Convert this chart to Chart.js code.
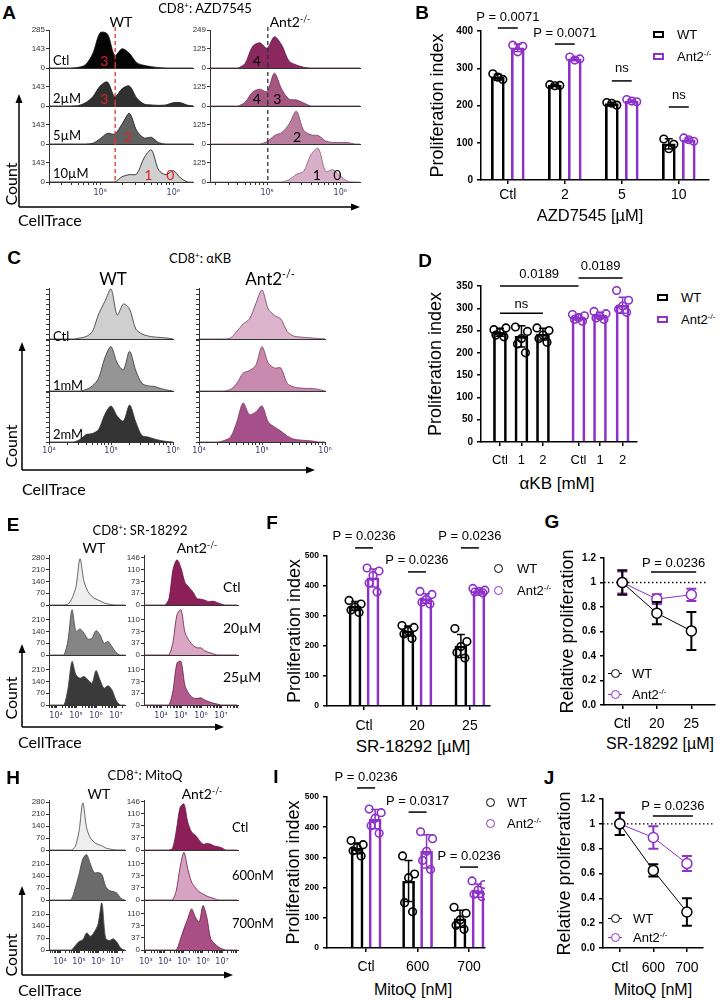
<!DOCTYPE html>
<html>
<head>
<meta charset="utf-8">
<title>CD8 proliferation</title>
<script src="https://cdn.jsdelivr.net/npm/chart.js@4.4.1/dist/chart.umd.min.js"></script>
<style>
  body { margin: 0; background: #fff; }
  #fig { position: relative; width: 721px; height: 1000px; overflow: hidden; font-family: "Liberation Sans", Arial, sans-serif; color: #000; }
  .box { position: absolute; }
  .t { position: absolute; white-space: nowrap; line-height: 1; }
  .sp { font-size: 62%; vertical-align: 0.6em; }
  .lab { font-weight: bold; font-size: 19px; }
  svg { position: absolute; left: 0; top: 0; }
</style>
</head>
<body>
<div id="fig"></div>
<script>
// ---------- A: AZD7545 histograms (x = log10 CellTrace, y = count) ----------
const aX = [4.2, 4.3, 4.4, 4.5, 4.6, 4.7, 4.8, 4.9, 5.0, 5.1, 5.2, 5.3, 5.4, 5.5, 5.6, 5.7, 5.8, 5.9, 6.0, 6.1, 6.2, 6.3];
const aWtCtl = [0, 0, 0, 0, 0, 5, 25, 110, 265, 255, 95, 145, 110, 40, 20, 10, 3, 0, 0, 0, 0, 0];
const aWt2   = [0, 0, 0, 0, 0, 3, 25, 70, 150, 180, 70, 130, 150, 60, 15, 8, 5, 8, 25, 25, 5, 0];
const aWt5   = [0, 0, 0, 0, 0, 0, 0, 5, 40, 80, 75, 150, 230, 100, 45, 50, 10, 0, 0, 0, 0, 0];
const aWt10  = [0, 0, 0, 0, 0, 0, 0, 0, 0, 0, 0, 40, 55, 60, 180, 240, 90, 55, 85, 30, 0, 0];
const aKoCtl = [0, 0, 0, 0, 0, 30, 140, 165, 130, 205, 150, 45, 20, 5, 0, 0, 0, 0, 0, 0, 0, 0];
const aKo2   = [0, 0, 0, 0, 0, 25, 90, 110, 95, 215, 110, 45, 40, 20, 0, 0, 0, 0, 0, 0, 0, 0];
const aKo5   = [0, 0, 0, 0, 0, 0, 0, 0, 15, 55, 75, 130, 215, 90, 60, 55, 20, 10, 10, 10, 0, 0];
const aKo10  = [0, 0, 0, 0, 0, 0, 0, 0, 0, 0, 0, 15, 50, 70, 180, 220, 70, 80, 40, 5, 0, 0];
const aRows = ['Ctl', '2µM', '5µM', '10µM'];
const aWtTicks = [0, 143, 285], aWtTicksLow = [0, 143];
const aKoTicks = [0, 125, 249], aKoTicksLow = [0, 125];
const aWtGens = [[['3', 5.055]], [['3', 5.055]], [['2', 5.38]], [['1', 5.66], ['0', 5.96]]];
const aKoGens = [[['4', 4.86]], [['4', 4.86], ['3', 5.14]], [['2', 5.41]], [['1', 5.68], ['0', 5.96]]];
const aWtGate = 5.205, aKoGate = 5.01;

// ---------- B: proliferation index, AZD7545 ----------
const bCats = ['Ctl', '2', '5', '10'];
const bTicks = [0, 100, 200, 300, 400];
const bWtMean = [276, 255, 205, 97];
const bKoMean = [355, 325, 212, 108];
const bWtSd = [8, 2, 4, 14];
const bKoSd = [10, 4, 3, 5];
const bWtPts = [[285, 270, 276], [256, 254, 253], [208, 201, 206], [110, 96, 84]];
const bKoPts = [[362, 359, 344], [330, 325, 322], [216, 210, 212], [113, 104, 108]];

// ---------- C: aKB histograms (normalised counts) ----------
const cX = [4.0, 4.1, 4.2, 4.3, 4.4, 4.5, 4.6, 4.7, 4.8, 4.9, 5.0, 5.1, 5.2, 5.3, 5.4, 5.5, 5.6, 5.7, 5.8, 5.9, 6.0];
const cWtCtl = [0, 0, 0, 0, 0, 2, 5, 15, 50, 75, 100, 48, 70, 60, 20, 10, 6, 4, 3, 2, 0];
const cWt1   = [0, 0, 0, 0, 0, 0, 3, 10, 25, 65, 87, 55, 42, 78, 40, 15, 10, 9, 5, 2, 0];
const cWt2   = [0, 0, 0, 0, 0, 5, 15, 17, 25, 55, 72, 52, 42, 74, 40, 13, 10, 6, 3, 1, 0];
const cKoCtl = [0, 0, 0, 0, 0, 2, 15, 30, 40, 70, 98, 60, 47, 40, 15, 6, 4, 3, 2, 1, 0];
const cKo1   = [0, 0, 0, 0, 0, 3, 15, 35, 40, 50, 87, 55, 45, 45, 15, 8, 6, 5, 5, 3, 0];
const cKo2   = [0, 0, 0, 0, 3, 10, 40, 78, 55, 60, 72, 40, 30, 22, 12, 6, 4, 3, 2, 0, 0];
const cRows = ['Ctl', '1mM', '2mM'];
const cTicks = [0, 10, 20, 30, 40, 50, 60, 70, 80, 90, 100];

// ---------- D: proliferation index, aKB ----------
const dCats = ['Ctl', '1', '2', 'Ctl', '1', '2'];
const dTicks = [0, 50, 100, 150, 200, 250, 300, 350];
const dWtMean = [246, 237, 242];
const dKoMean = [280, 284, 307];
const dWtSd = [9, 24, 13];
const dKoSd = [6, 7, 18];
const dWtPts = [[252, 256, 246, 240, 236], [258, 248, 232, 220, 200], [256, 250, 240, 232, 224]];
const dKoPts = [[286, 283, 279, 275, 271], [293, 288, 282, 278, 275], [340, 318, 305, 298, 291]];

// ---------- E: SR-18292 histograms ----------
const eX = [2.8, 3.0, 3.2, 3.4, 3.6, 3.8, 4.0, 4.2, 4.4, 4.6, 4.8, 5.0, 5.2, 5.4, 5.6, 5.8, 6.0, 6.2, 6.4, 6.6, 6.8, 7.0, 7.2, 7.4, 7.6, 7.8];
const eWtCtl = [0, 0, 0, 0, 0, 0, 0, 0, 0, 5, 40, 110, 275, 140, 80, 50, 35, 25, 12, 6, 2, 0, 0, 0, 0, 0];
const eWt20  = [0, 0, 0, 0, 0, 0, 0, 0, 0, 90, 270, 140, 155, 130, 95, 100, 145, 120, 70, 80, 50, 15, 0, 0, 0, 0];
const eWt25  = [0, 0, 0, 0, 0, 0, 0, 0, 0, 100, 260, 180, 160, 170, 150, 130, 205, 150, 100, 115, 90, 30, 0, 0, 0, 0];
const eKoCtl = [0, 0, 0, 0, 0, 0, 0, 0, 20, 110, 140, 115, 70, 55, 40, 20, 18, 15, 10, 12, 8, 3, 0, 0, 0, 0];
const eKo20  = [0, 0, 0, 0, 0, 0, 0, 0, 0, 40, 125, 140, 70, 45, 30, 22, 22, 12, 8, 4, 0, 0, 0, 0, 0, 0];
const eKo25  = [0, 0, 0, 0, 0, 0, 0, 0, 0, 45, 130, 135, 60, 35, 22, 20, 22, 15, 10, 6, 3, 0, 0, 0, 0, 0];
const eRows = ['Ctl', '20µM', '25µM'];
const eWtTicks = [0, 70, 140, 210, 280], eWtTicksLow = [0, 70, 140, 210];
const eKoTicks = [0, 37, 73, 110, 146], eKoTicksLow = [0, 37, 73, 110];

// ---------- F: proliferation index, SR-18292 ----------
const fCats = ['Ctl', '20', '25'];
const fTicks = [0, 100, 200, 300, 400, 500];
const fWtMean = [333, 250, 200];
const fKoMean = [427, 358, 383];
const fWtSd = [15, 17, 38];
const fKoSd = [30, 16, 5];
const fWtPts = [[352, 340, 330, 320, 312], [268, 262, 250, 240, 225], [258, 215, 198, 178, 160]];
const fKoPts = [[460, 450, 435, 410, 380], [382, 372, 355, 346, 340], [392, 386, 382, 380, 377]];

// ---------- G: relative proliferation, SR-18292 ----------
const gCats = ['Ctl', '20', '25'];
const gTicks = [0, 0.2, 0.4, 0.6, 0.8, 1, 1.2];
const gWt = [1.0, 0.75, 0.605];
const gWtSd = [0.1, 0.09, 0.155];
const gKo = [1.0, 0.865, 0.9];
const gKoSd = [0.09, 0.04, 0.05];

// ---------- H: MitoQ histograms ----------
const hWtCtl = [0, 0, 0, 0, 0, 0, 0, 0, 0, 0, 20, 110, 275, 130, 70, 45, 32, 25, 12, 6, 2, 0, 0, 0, 0, 0];
const hWt600 = [0, 0, 0, 0, 0, 0, 0, 0, 0, 5, 70, 150, 240, 265, 210, 160, 160, 150, 80, 55, 50, 40, 10, 0, 0, 0];
const hWt700 = [0, 0, 0, 0, 0, 0, 0, 0, 0, 0, 25, 50, 60, 100, 80, 105, 150, 275, 70, 55, 65, 45, 10, 0, 0, 0];
const hKoCtl = [0, 0, 0, 0, 0, 0, 0, 0, 5, 60, 130, 140, 85, 55, 45, 30, 18, 20, 18, 12, 10, 6, 0, 0, 0, 0];
const hKo600 = [0, 0, 0, 0, 0, 0, 0, 0, 0, 30, 100, 145, 95, 55, 38, 25, 18, 12, 8, 4, 0, 0, 0, 0, 0, 0];
const hKo700 = [0, 0, 0, 0, 0, 0, 0, 0, 0, 0, 30, 65, 95, 125, 100, 85, 135, 100, 35, 20, 10, 3, 0, 0, 0, 0];
const hRows = ['Ctl', '600nM', '700nM'];

// ---------- I: proliferation index, MitoQ ----------
const iCats = ['Ctl', '600', '700'];
const iWtMean = [330, 222, 97];
const iKoMean = [427, 320, 190];
const iWtSd = [18, 68, 28];
const iKoSd = [32, 55, 22];
const iWtPts = [[356, 342, 333, 322, 305], [305, 245, 233, 150, 120], [135, 115, 93, 75, 62]];
const iKoPts = [[460, 448, 430, 405, 380], [385, 362, 320, 290, 260], [222, 210, 192, 178, 170]];

// ---------- J: relative proliferation, MitoQ ----------
const jCats = ['Ctl', '600', '700'];
const jWt = [1.0, 0.625, 0.29];
const jWtSd = [0.09, 0.05, 0.11];
const jKo = [1.0, 0.89, 0.68];
const jKoSd = [0.09, 0.09, 0.06];

// ---------- setup ----------
const fig = document.getElementById('fig');
Chart.defaults.font.family = '"Liberation Sans", Arial, sans-serif';
Chart.defaults.color = '#000';
const PURPLE = '#8d32c8';
const FJ = 'Lato, "Open Sans", sans-serif';
const KO = 'Ant2<span class="sp">-/-</span>';
const SUP = { 2: '²', 3: '³', 4: '⁴', 5: '⁵', 6: '⁶', 7: '⁷', 8: '⁸' };

function addCanvas(l, t, w, h) {
  const d = document.createElement('div');
  d.className = 'box';
  d.style.cssText = `left:${l}px;top:${t}px;width:${w}px;height:${h}px`;
  const c = document.createElement('canvas');
  d.appendChild(c);
  fig.appendChild(d);
  return c;
}

function txt(html, x, y, css, mode) {
  const d = document.createElement('div');
  d.className = 't';
  d.innerHTML = html;
  const tr = mode === 'l' ? 'translate(0,-50%)'
    : mode === 'r' ? 'translate(-50%,-50%) rotate(-90deg)' : 'translate(-50%,-50%)';
  d.style.cssText = `left:${x}px;top:${y}px;transform:${tr};${css || ''}`;
  fig.appendChild(d);
}

function legBox(x, y, col, label) {
  const d = document.createElement('div');
  d.style.cssText = `position:absolute;left:${x}px;top:${y - 3.5}px;width:7px;height:3px;border:2px solid ${col}`;
  fig.appendChild(d);
  txt(label, x + 24, y, 'font-size:13px', 'l');
}

function legDot(x, y, col, label, tx, withLine) {
  if (withLine) {
    const l = document.createElement('div');
    l.style.cssText = `position:absolute;left:${x - 7}px;top:${y - 0.5}px;width:14px;height:1px;background:${col}`;
    fig.appendChild(l);
  }
  const d = document.createElement('div');
  d.style.cssText = `position:absolute;left:${x - 4.5}px;top:${y - 4.5}px;width:9px;height:9px;box-sizing:border-box;border:1.6px solid ${col};border-radius:50%;background:#fff`;
  fig.appendChild(d);
  txt(label, tx, y, 'font-size:13px', 'l');
}

// axis arrows of the flow panels
const svgNS = 'http://www.w3.org/2000/svg';
const svg = document.createElementNS(svgNS, 'svg');
svg.setAttribute('width', 721);
svg.setAttribute('height', 1000);
fig.appendChild(svg);
function arrow(x1, y1, x2, y2) {
  const dx = x2 - x1, dy = y2 - y1, len = Math.hypot(dx, dy), ux = dx / len, uy = dy / len;
  const bx = x2 - ux * 9, by = y2 - uy * 9;
  const ln = document.createElementNS(svgNS, 'line');
  ln.setAttribute('x1', x1); ln.setAttribute('y1', y1);
  ln.setAttribute('x2', bx); ln.setAttribute('y2', by);
  ln.setAttribute('stroke', '#000'); ln.setAttribute('stroke-width', 1.5);
  svg.appendChild(ln);
  const pg = document.createElementNS(svgNS, 'polygon');
  pg.setAttribute('points', `${x2},${y2} ${bx - uy * 3.5},${by + ux * 3.5} ${bx + uy * 3.5},${by - ux * 3.5}`);
  pg.setAttribute('fill', '#000');
  svg.appendChild(pg);
}

// ---------- plugins ----------
function drawErr(chart, i) {
  const ds = chart.data.datasets[i];
  if (!ds.sd) return;
  const meta = chart.getDatasetMeta(i), y = chart.scales.y, ctx = chart.ctx;
  const w = ds.capW || 4;
  ctx.save();
  ctx.strokeStyle = ds.errColor || ds.borderColor;
  ctx.lineWidth = ds.errWidth || 1.5;
  meta.data.forEach((el, k) => {
    const v = ds.data[k].y, s = ds.sd[k];
    const t = y.getPixelForValue(v + s), b = y.getPixelForValue(v - s);
    ctx.beginPath();
    ctx.moveTo(el.x, t); ctx.lineTo(el.x, b);
    ctx.moveTo(el.x - w, t); ctx.lineTo(el.x + w, t);
    ctx.moveTo(el.x - w, b); ctx.lineTo(el.x + w, b);
    ctx.stroke();
  });
  ctx.restore();
}
Chart.register({
  id: 'errBars',
  beforeDatasetDraw(chart, args) { if (chart.config.type === 'line') drawErr(chart, args.index); },
  afterDatasetDraw(chart, args) { if (chart.config.type !== 'line') drawErr(chart, args.index); }
});

function notes(items) {
  return {
    id: 'notes',
    afterDraw(chart) {
      const ctx = chart.ctx, xs = chart.scales.x, ys = chart.scales.y;
      ctx.save();
      ctx.strokeStyle = '#000'; ctx.fillStyle = '#000'; ctx.lineWidth = 1.5;
      ctx.font = '13px "Liberation Sans", Arial, sans-serif';
      ctx.textAlign = 'center'; ctx.textBaseline = 'middle';
      items.forEach(it => {
        let x1, x2;
        if (it.a) {
          x1 = chart.getDatasetMeta(it.a[0]).data[it.a[1]].x;
          x2 = chart.getDatasetMeta(it.b[0]).data[it.b[1]].x;
        } else {
          x1 = xs.getPixelForValue(it.x1);
          x2 = xs.getPixelForValue(it.x2);
        }
        const py = ys.getPixelForValue(it.y);
        ctx.beginPath(); ctx.moveTo(x1, py); ctx.lineTo(x2, py); ctx.stroke();
        ctx.fillText(it.t, (x1 + x2) / 2, py - (it.gap || 11));
      });
      ctx.restore();
    }
  };
}

function refLine(yv, xEnd) {
  return {
    id: 'refLine',
    beforeDatasetsDraw(chart) {
      const ctx = chart.ctx, a = chart.chartArea;
      const py = chart.scales.y.getPixelForValue(yv), x2 = chart.scales.x.getPixelForValue(xEnd);
      ctx.save();
      ctx.strokeStyle = '#000'; ctx.lineWidth = 1.3; ctx.setLineDash([1.5, 2.5]);
      ctx.beginPath(); ctx.moveTo(a.left, py); ctx.lineTo(x2, py); ctx.stroke();
      ctx.restore();
    }
  };
}

function gatePlugin(xv, col) {
  return {
    id: 'gate',
    afterDatasetsDraw(chart) {
      const ctx = chart.ctx, a = chart.chartArea, x = chart.scales.x.getPixelForValue(xv);
      ctx.save();
      ctx.strokeStyle = col; ctx.lineWidth = 1.3; ctx.setLineDash([4, 3]);
      ctx.beginPath(); ctx.moveTo(x, a.top - 3); ctx.lineTo(x, a.bottom); ctx.stroke();
      ctx.restore();
    }
  };
}

function gensPlugin(list, col) {
  return {
    id: 'gens',
    afterDatasetsDraw(chart) {
      const ctx = chart.ctx, a = chart.chartArea;
      ctx.save();
      ctx.fillStyle = col; ctx.font = '14px ' + FJ;
      ctx.textAlign = 'center'; ctx.textBaseline = 'middle';
      list.forEach(([s, xv]) => ctx.fillText(s, chart.scales.x.getPixelForValue(xv), a.bottom - 7));
      ctx.restore();
    }
  };
}

function logTicks(xr) {
  const out = [];
  for (let n = Math.floor(xr[0]); n <= Math.ceil(xr[1]); n++) {
    for (let k = 1; k <= 9; k++) {
      const v = k === 1 ? n : n + Math.log10(k);
      if (v >= xr[0] && v <= xr[1]) out.push({ value: v });
    }
  }
  return out;
}

// ---------- one histogram row ----------
function hist(l, t, r, b, o) {
  const pt = 6, pr = 10, xh = o.last ? 18 : 8;
  const cv = addCanvas(l - o.yw, t - pt, r - l + o.yw + pr, b - t + pt + xh);
  const extra = [];
  if (o.gate) extra.push(gatePlugin(o.gate[0], o.gate[1]));
  if (o.gens) extra.push(gensPlugin(o.gens[0], o.gens[1]));
  new Chart(cv, {
    type: 'line',
    data: {
      datasets: [{
        data: o.xs.map((x, i) => ({ x, y: o.ys[i] })),
        fill: 'origin', backgroundColor: o.fill, borderColor: o.line,
        borderWidth: 0.8, pointRadius: 0, tension: 0.3
      }]
    },
    options: {
      animation: false, responsive: true, maintainAspectRatio: false, events: [],
      layout: { padding: { top: pt, right: pr, left: 0, bottom: 0 } },
      plugins: { legend: { display: false }, tooltip: { enabled: false } },
      scales: {
        x: {
          type: 'linear', min: o.xr[0], max: o.xr[1],
          afterFit: s => { s.height = xh; },
          afterBuildTicks: s => { s.ticks = logTicks(o.xr); },
          grid: { display: !!o.last, drawOnChartArea: false, tickLength: 3, color: '#333' },
          border: { color: '#333', width: 1 },
          ticks: {
            display: !!o.last, autoSkip: false, maxRotation: 0, padding: o.tpad, color: '#3b3b6b',
            font: { size: 8, family: '"DejaVu Sans", sans-serif' },
            callback: v => Number.isInteger(v) ? '10' + SUP[v] : ''
          }
        },
        y: {
          min: 0, max: o.ymax,
          afterFit: s => { s.width = o.yw; },
          afterBuildTicks: s => { s.ticks = o.yt.map(v => ({ value: v })); },
          grid: { drawOnChartArea: false, tickLength: 3, color: '#333' },
          border: { color: '#333', width: 1 },
          ticks: { display: o.ylab, autoSkip: false, padding: 1, color: '#333', font: { size: 8 } }
        }
      }
    },
    plugins: extra
  });
}

// ---------- bar panel ----------
function barPanel(o) {
  const [L, T, R, B] = o.rect;
  const cv = addCanvas(L - o.yw, T - o.pt, R - L + o.yw + o.pr, B - T + o.pt + o.xh);
  const unit = (R - L) / (o.xr[1] - o.xr[0]);
  const bar = (means, xs, sd, col) => ({
    type: 'bar', data: means.map((v, i) => ({ x: xs[i], y: v })), sd,
    backgroundColor: 'rgba(255,255,255,0)', borderColor: col, borderWidth: 2,
    barThickness: o.bw, grouped: false, order: 3
  });
  const dots = (groups, xs, col) => ({
    type: 'scatter',
    data: groups.flatMap((g, i) => g.map((v, k) => ({ x: xs[i] + o.jit[k] / unit, y: v }))),
    pointRadius: 3.8, pointBorderWidth: 1.6, borderColor: col, pointBorderColor: col,
    pointBackgroundColor: 'rgba(255,255,255,0)', order: 1
  });
  new Chart(cv, {
    type: 'bar',
    data: {
      datasets: [
        bar(o.wt, o.wtX, o.wtSd, '#000'), bar(o.ko, o.koX, o.koSd, PURPLE),
        dots(o.wtPts, o.wtX, '#000'), dots(o.koPts, o.koX, PURPLE)
      ]
    },
    options: {
      animation: false, responsive: true, maintainAspectRatio: false, events: [],
      layout: { padding: { top: o.pt, right: o.pr, left: 0, bottom: 0 } },
      plugins: { legend: { display: false }, tooltip: { enabled: false } },
      scales: {
        x: {
          type: 'linear', min: o.xr[0], max: o.xr[1], offset: false,
          afterFit: s => { s.height = o.xh; },
          afterBuildTicks: s => { s.ticks = o.tickX.map(v => ({ value: v })); },
          grid: { offset: false, drawOnChartArea: false, tickLength: 4, color: '#000', lineWidth: 1.5 },
          border: { color: '#000', width: 1.5 },
          ticks: {
            autoSkip: false, maxRotation: 0, padding: o.xpad, color: '#000',
            font: { size: o.xfs }, callback: (v, i) => o.tickLabels[i]
          }
        },
        y: {
          min: 0, max: o.ymax,
          afterFit: s => { s.width = o.yw; },
          afterBuildTicks: s => { s.ticks = o.tickY.map(v => ({ value: v })); },
          grid: { drawOnChartArea: false, tickLength: 4, color: '#000', lineWidth: 1.5 },
          border: { color: '#000', width: 1.5 },
          ticks: { autoSkip: false, padding: 4, color: '#000', font: { size: o.yfs, weight: 'bold' } },
          title: { display: true, text: 'Proliferation index', font: { size: 18 }, padding: 0, color: '#000' }
        }
      }
    },
    plugins: [notes(o.notes)]
  });
}

// ---------- relative proliferation panel ----------
function linePanel(o) {
  const [L, T, R, B] = o.rect;
  const cv = addCanvas(L - o.yw, T - o.pt, R - L + o.yw + o.pr, B - T + o.pt + o.xh);
  const ser = (vals, sd, col, ord) => ({
    data: vals.map((v, i) => ({ x: i, y: v })), sd,
    borderColor: col, borderWidth: 1, pointRadius: 5, pointBorderWidth: 1.5,
    pointBorderColor: col, pointBackgroundColor: '#fff',
    errColor: col, errWidth: 2, capW: 5, tension: 0, order: ord
  });
  new Chart(cv, {
    type: 'line',
    data: { datasets: [ser(o.ko, o.koSd, PURPLE, 2), ser(o.wt, o.wtSd, '#000', 1)] },
    options: {
      animation: false, responsive: true, maintainAspectRatio: false, events: [],
      layout: { padding: { top: o.pt, right: o.pr, left: 0, bottom: 0 } },
      plugins: { legend: { display: false }, tooltip: { enabled: false } },
      scales: {
        x: {
          type: 'linear', min: o.xr[0], max: o.xr[1],
          afterFit: s => { s.height = o.xh; },
          afterBuildTicks: s => { s.ticks = o.cats.map((c, i) => ({ value: i })); },
          grid: { drawOnChartArea: false, tickLength: 4, color: '#000', lineWidth: 1.5 },
          border: { color: '#000', width: 1.5 },
          ticks: {
            autoSkip: false, maxRotation: 0, padding: o.xpad, color: '#000',
            font: { size: 14 }, callback: (v, i) => o.cats[i]
          }
        },
        y: {
          min: 0, max: 1.2,
          afterFit: s => { s.width = o.yw; },
          afterBuildTicks: s => { s.ticks = gTicks.map(v => ({ value: v })); },
          grid: { drawOnChartArea: false, tickLength: 4, color: '#000', lineWidth: 1.5 },
          border: { color: '#000', width: 1.5 },
          ticks: {
            autoSkip: false, padding: 4, color: '#000', font: { size: 10, weight: 'bold' },
            callback: v => v === 0 ? '0.0' : v === 1 ? '1' : v.toFixed(1)
          },
          title: { display: true, text: 'Relative proliferation', font: { size: 18 }, padding: 0, color: '#000' }
        }
      }
    },
    plugins: [notes(o.notes), refLine(1, o.refEnd)]
  });
}

// ---------- A ----------
const aWtFill = ['#050505', '#303030', '#606060', '#d0d0d0'];
const aKoFill = ['#8c2860', '#a55582', '#b97da0', '#d7afc8'];
const aKoLine = ['#5a1440', '#6e2a55', '#7a4565', '#8a5f78'];
[aWtCtl, aWt2, aWt5, aWt10].forEach((ys, r) => {
  hist(49, 30 + 38 * r, 193, 68 + 38 * r, {
    xs: aX, ys, xr: [4.30, 6.27], ymax: 285, yt: r ? aWtTicksLow : aWtTicks, ylab: true, yw: 20,
    last: r === 3, tpad: 3, fill: aWtFill[r], line: '#111',
    gate: [aWtGate, '#e8332a'], gens: [aWtGens[r], '#e02222']
  });
});
[aKoCtl, aKo2, aKo5, aKo10].forEach((ys, r) => {
  hist(210, 30 + 38 * r, 360, 68 + 38 * r, {
    xs: aX, ys, xr: [4.22, 6.27], ymax: 249, yt: r ? aKoTicksLow : aKoTicks, ylab: true, yw: 20,
    last: r === 3, tpad: 3, fill: aKoFill[r], line: aKoLine[r],
    gate: [aKoGate, '#333'], gens: [aKoGens[r], '#000']
  });
});

// ---------- C ----------
const cTop = [288, 339, 391], cBot = [339, 391, 442];
const cWtFill = ['#cfcfcf', '#959595', '#333333'];
const cKoFill = ['#dcb3cc', '#c88aae', '#a5508a'];
[cWtCtl, cWt1, cWt2].forEach((ys, r) => {
  hist(49, cTop[r], 173, cBot[r], {
    xs: cX, ys, xr: [4, 6], ymax: 102, yt: cTicks, ylab: false, yw: 10,
    last: r === 2, tpad: 1, fill: cWtFill[r], line: '#333'
  });
});
[cKoCtl, cKo1, cKo2].forEach((ys, r) => {
  hist(199, cTop[r], 325, cBot[r], {
    xs: cX, ys, xr: [4, 6], ymax: 102, yt: cTicks, ylab: false, yw: 10,
    last: r === 2, tpad: 1, fill: cKoFill[r], line: '#7a3a62'
  });
});

// ---------- E ----------
const eTop = [555, 605, 655], eBot = [605, 655, 705];
const eWtFill = ['#eeeeee', '#858585', '#3a3a3a'];
const eKoFill = ['#8c1f57', '#dba5c5', '#b25a8c'];
[eWtCtl, eWt20, eWt25].forEach((ys, r) => {
  hist(49, eTop[r], 125, eBot[r], {
    xs: eX, ys, xr: [3.65, 7.45], ymax: 298, yt: r ? eWtTicksLow : eWtTicks, ylab: true, yw: 20,
    last: r === 2, tpad: 3, fill: eWtFill[r], line: '#444'
  });
});
[eKoCtl, eKo20, eKo25].forEach((ys, r) => {
  hist(144, eTop[r], 238, eBot[r], {
    xs: eX, ys, xr: [3.15, 7.85], ymax: 155, yt: r ? eKoTicksLow : eKoTicks, ylab: true, yw: 20,
    last: r === 2, tpad: 3, fill: eKoFill[r], line: '#6a1a45'
  });
});

// ---------- H ----------
const hTop = [800, 850, 900], hBot = [850, 900, 950];
const hWtFill = ['#eeeeee', '#6b6b6b', '#303030'];
const hKoFill = ['#8c1f57', '#d6a3c2', '#a94f86'];
[hWtCtl, hWt600, hWt700].forEach((ys, r) => {
  hist(49, hTop[r], 125, hBot[r], {
    xs: eX, ys, xr: [3.42, 7.42], ymax: 292, yt: r ? eWtTicksLow : eWtTicks, ylab: true, yw: 20,
    last: r === 2, tpad: 4, fill: hWtFill[r], line: '#444'
  });
});
[hKoCtl, hKo600, hKo700].forEach((ys, r) => {
  hist(144, hTop[r], 238, hBot[r], {
    xs: eX, ys, xr: [2.9, 7.84], ymax: 152, yt: r ? eKoTicksLow : eKoTicks, ylab: true, yw: 20,
    last: r === 2, tpad: 4, fill: hKoFill[r], line: '#6a1a45'
  });
});

// ---------- B ----------
barPanel({
  rect: [481, 31, 709, 180], xr: [-0.47, 3.53], ymax: 400, yw: 54, xh: 28, pt: 24, pr: 6,
  bw: 13, xpad: 3, xfs: 14, yfs: 10, jit: [-5, 5, 0],
  tickX: bCats.map((c, i) => i), tickLabels: bCats, tickY: bTicks,
  wtX: bCats.map((c, i) => i - 0.175), koX: bCats.map((c, i) => i + 0.175),
  wt: bWtMean, ko: bKoMean, wtSd: bWtSd, koSd: bKoSd, wtPts: bWtPts, koPts: bKoPts,
  notes: [
    { a: [0, 0], b: [1, 0], y: 408, t: 'P = 0.0071' },
    { a: [0, 1], b: [1, 1], y: 365, t: 'P = 0.0071' },
    { a: [0, 2], b: [1, 2], y: 266, t: 'ns', gap: 12 },
    { a: [0, 3], b: [1, 3], y: 196, t: 'ns', gap: 12 }
  ]
});

// ---------- D ----------
barPanel({
  rect: [481, 286, 637, 442], xr: [-0.88, 6.37], ymax: 350, yw: 56, xh: 28, pt: 30, pr: 6,
  bw: 13, xpad: 7, xfs: 13, yfs: 10, jit: [-6, 6, 0, -4, 4],
  tickX: [0, 1, 2, 3.65, 4.65, 5.7], tickLabels: dCats, tickY: dTicks,
  wtX: [0, 1, 2], koX: [3.65, 4.65, 5.7],
  wt: dWtMean, ko: dKoMean, wtSd: dWtSd, koSd: dKoSd, wtPts: dWtPts, koPts: dKoPts,
  notes: [
    { a: [0, 0], b: [1, 0], y: 350, t: '0.0189', gap: 12 },
    { a: [1, 0], b: [1, 2], y: 368, t: '0.0189', gap: 12 },
    { a: [0, 0], b: [0, 2], y: 289, t: 'ns', gap: 9 }
  ]
});

// ---------- F ----------
barPanel({
  rect: [327, 556, 490, 706], xr: [-0.7, 2.38], ymax: 500, yw: 43, xh: 30, pt: 30, pr: 14,
  bw: 12, xpad: 8, xfs: 14, yfs: 8.5, jit: [-6, 6, 0, -4, 4],
  tickX: fCats.map((c, i) => i), tickLabels: fCats, tickY: fTicks,
  wtX: fCats.map((c, i) => i - 0.17), koX: fCats.map((c, i) => i + 0.17),
  wt: fWtMean, ko: fKoMean, wtSd: fWtSd, koSd: fKoSd, wtPts: fWtPts, koPts: fKoPts,
  notes: [
    { a: [0, 0], b: [1, 0], y: 527, t: 'P = 0.0236' },
    { a: [0, 1], b: [1, 1], y: 447, t: 'P = 0.0236' },
    { a: [0, 2], b: [1, 2], y: 527, t: 'P = 0.0236' }
  ]
});

// ---------- I ----------
barPanel({
  rect: [327, 797, 485, 948], xr: [-0.76, 2.31], ymax: 500, yw: 44, xh: 30, pt: 30, pr: 20,
  bw: 12, xpad: 7, xfs: 14, yfs: 8.5, jit: [-6, 6, 0, -4, 4],
  tickX: iCats.map((c, i) => i), tickLabels: iCats, tickY: fTicks,
  wtX: iCats.map((c, i) => i - 0.175), koX: iCats.map((c, i) => i + 0.175),
  wt: iWtMean, ko: iKoMean, wtSd: iWtSd, koSd: iKoSd, wtPts: iWtPts, koPts: iKoPts,
  notes: [
    { a: [0, 0], b: [1, 0], y: 530, t: 'P = 0.0236' },
    { a: [0, 1], b: [1, 1], y: 450, t: 'P = 0.0317' },
    { a: [0, 2], b: [1, 2], y: 268, t: 'P = 0.0236' }
  ]
});

// ---------- G / J ----------
linePanel({
  rect: [604, 558, 719, 705], xr: [-0.53, 2.67], yw: 47, xh: 30, pt: 10, pr: 2, xpad: 7,
  cats: gCats, wt: gWt, wtSd: gWtSd, ko: gKo, koSd: gKoSd, refEnd: 2.42,
  notes: [{ x1: 0.83, x2: 2.14, y: 1.086, t: 'P = 0.0236', gap: 9 }]
});
linePanel({
  rect: [603, 799, 703, 948], xr: [-0.5, 2.48], yw: 49, xh: 30, pt: 10, pr: 14, xpad: 8,
  cats: jCats, wt: jWt, wtSd: jWtSd, ko: jKo, koSd: jKoSd, refEnd: 2.78,
  notes: [{ x1: 0.985, x2: 2.18, y: 1.063, t: 'P = 0.0236', gap: 10 }]
});

// ---------- arrows ----------
arrow(19, 207, 19, 94); arrow(19, 207, 360, 207);
arrow(22, 470, 22, 342); arrow(22, 470, 315, 470);
arrow(22, 727, 22, 644); arrow(22, 727, 224, 727);
arrow(22, 975, 22, 886); arrow(22, 975, 233, 975);

// ---------- texts ----------
const fj = s => `font-family:${FJ};font-size:${s}px`;
// A
txt('A', 9, 12); fig.lastChild.classList.add('lab');
txt('CD8<span class="sp">+</span>: AZD7545', 205, 8, fj(13));
txt('WT', 121, 22, fj(14));
txt(KO, 290, 22, fj(14));
[60, 98, 135, 173].forEach((y, r) => txt(aRows[r], 53, y, fj(13), 'l'));
txt('Count', 11, 184, fj(16), 'r');
txt('CellTrace', 18, 220, fj(16), 'l');
// C
txt('C', 14, 257); fig.lastChild.classList.add('lab');
txt('CD8<span class="sp">+</span>: αKB', 200, 258, fj(13));
txt('WT', 113, 278, fj(17));
txt(KO, 270, 278, fj(17));
[336, 385, 434].forEach((y, r) => txt(cRows[r], 53, y, fj(13), 'l'));
txt('Count', 11, 446, fj(16), 'r');
txt('CellTrace', 22, 489, fj(16), 'l');
// E
txt('E', 13, 524); fig.lastChild.classList.add('lab');
txt('CD8<span class="sp">+</span>: SR-18292', 140, 530, fj(13));
txt('WT', 94, 548, fj(14));
txt(KO, 197, 548, fj(14));
[587, 628, 677].forEach((y, r) => txt(eRows[r], 223, y, fj(14), 'l'));
txt('Count', 11, 698, fj(16), 'r');
txt('CellTrace', 18, 742, fj(16), 'l');
// H
txt('H', 13, 777); fig.lastChild.classList.add('lab');
txt('CD8<span class="sp">+</span>: MitoQ', 145, 775, fj(13));
txt('WT', 99, 794, fj(14));
txt(KO, 202, 794, fj(14));
[827, 875, 923].forEach((y, r) => txt(hRows[r], 232, y, fj(13), 'l'));
txt('Count', 11, 955, fj(16), 'r');
txt('CellTrace', 18, 990, fj(16), 'l');
// bar / line panel letters and x titles
[['B', 422, 12], ['D', 425, 260], ['F', 272, 522], ['G', 552, 521], ['I', 276, 776], ['J', 549, 777]]
  .forEach(([s, x, y]) => { txt(s, x, y); fig.lastChild.classList.add('lab'); });
txt('AZD7545 [µM]', 590, 215, 'font-size:16.5px');
txt('αKB [mM]', 557, 483, 'font-size:17px');
txt('SR-18292 [µM]', 413, 746, 'font-size:17px');
txt('SR-18292 [µM]', 660, 744, 'font-size:16px');
txt('MitoQ [nM]', 413, 990, 'font-size:16px');
txt('MitoQ [nM]', 653, 990, 'font-size:16px');
// legends
legBox(653, 34, '#000', 'WT'); legBox(653, 56, PURPLE, KO);
legBox(657, 297, '#000', 'WT'); legBox(657, 319, PURPLE, KO);
legDot(498, 568, '#000', 'WT', 517); legDot(498, 590, PURPLE, KO, 517);
legDot(490, 802, '#000', 'WT', 507); legDot(490, 823, PURPLE, KO, 507);
legDot(615, 673, '#000', 'WT', 632, true); legDot(615, 694, PURPLE, KO, 632, true);
legDot(615, 918, '#000', 'WT', 633, true); legDot(615, 937, PURPLE, KO, 633, true);
</script>
</body>
</html>
